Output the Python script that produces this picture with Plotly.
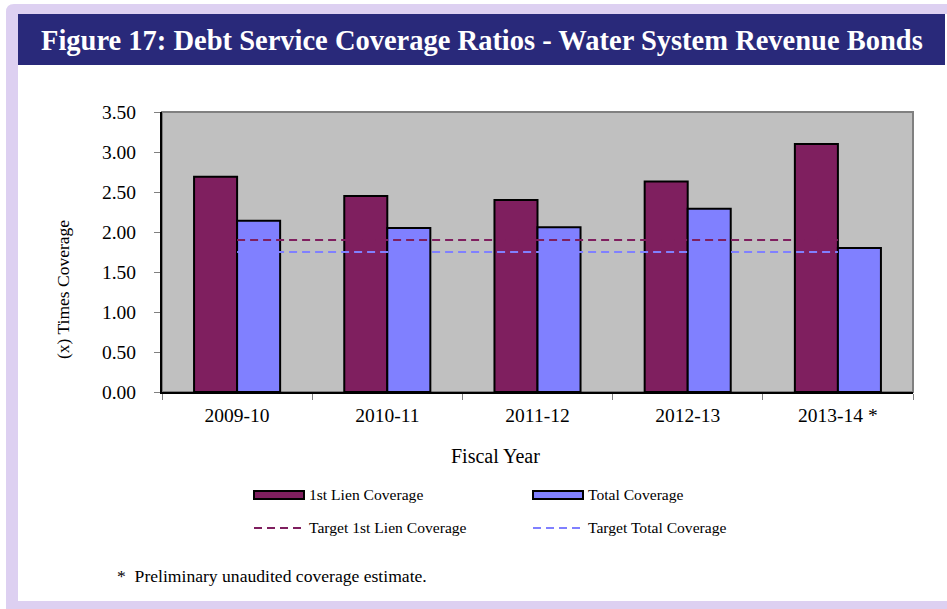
import plotly.graph_objects as go

# Fiscal years and coverage ratios (x times)
fiscal_years = ["2009-10", "2010-11", "2011-12", "2012-13", "2013-14 *"]
first_lien_coverage = [2.69, 2.45, 2.40, 2.63, 3.10]
total_coverage = [2.14, 2.05, 2.06, 2.29, 1.80]
target_first_lien = [1.90, 1.90, 1.90, 1.90, 1.90]
target_total = [1.75, 1.75, 1.75, 1.75, 1.75]
y_ticks = [0.0, 0.5, 1.0, 1.5, 2.0, 2.5, 3.0, 3.5]

W, H = 947, 609
ML, MR, MT, MB = 162, 34, 112, 217
PW, PH = W - ML - MR, H - MT - MB

PURPLE = "#7f1f5f"
BLUE = "#8080ff"
NAVY = "#29297a"
LAVENDER = "#ddd0f1"
SERIF = "Liberation Serif, Times New Roman, serif"


def px(x):
    return (x - ML) / PW


def py(y):
    return (H - MB - y) / PH


fig = go.Figure()
fig.add_trace(go.Bar(
    x=fiscal_years, y=first_lien_coverage, name="1st Lien Coverage",
    marker=dict(color=PURPLE, line=dict(color="black", width=2)),
))
fig.add_trace(go.Bar(
    x=fiscal_years, y=total_coverage, name="Total Coverage",
    marker=dict(color=BLUE, line=dict(color="black", width=2)),
))
fig.add_trace(go.Scatter(
    x=fiscal_years, y=target_first_lien, name="Target 1st Lien Coverage",
    mode="lines", line=dict(color=PURPLE, width=2, dash="8px,5px"),
))
fig.add_trace(go.Scatter(
    x=fiscal_years, y=target_total, name="Target Total Coverage",
    mode="lines", line=dict(color=BLUE, width=2, dash="8px,5px"),
))

shapes = []
# page frame: lavender border with rounded top-left corner
shapes.append(dict(
    type="path", xref="paper", yref="paper", layer="below",
    path=(f"M {px(6)},{py(12)} Q {px(6)},{py(4)} {px(14)},{py(4)} "
          f"L {px(W + 2)},{py(4)} L {px(W + 2)},{py(14)} L {px(18)},{py(14)} "
          f"L {px(18)},{py(601)} L {px(6)},{py(601)} Z"),
    fillcolor=LAVENDER, line=dict(width=0),
))
shapes.append(dict(
    type="rect", xref="paper", yref="paper", layer="below",
    x0=px(6), x1=px(W + 2), y0=py(601), y1=py(609),
    fillcolor=LAVENDER, line=dict(width=0),
))
# title band
shapes.append(dict(
    type="rect", xref="paper", yref="paper", layer="below",
    x0=px(18), x1=px(945), y0=py(14), y1=py(65),
    fillcolor=NAVY, line=dict(width=0),
))
# plot area frame
shapes.append(dict(
    type="rect", xref="paper", yref="paper", layer="below",
    x0=0, x1=1, y0=0, y1=1,
    fillcolor="rgba(0,0,0,0)", line=dict(color="#808080", width=2),
))

# legend entries
legend_items = [
    ("bar", PURPLE, "1st Lien Coverage", 254, 495),
    ("bar", BLUE, "Total Coverage", 533, 495),
    ("line", PURPLE, "Target 1st Lien Coverage", 254, 528),
    ("line", BLUE, "Target Total Coverage", 533, 528),
]
annotations = []
for kind, color, label, lx, ly in legend_items:
    if kind == "bar":
        shapes.append(dict(
            type="rect", xref="paper", yref="paper",
            x0=px(lx), x1=px(lx + 50), y0=py(ly - 4), y1=py(ly + 4),
            fillcolor=color, line=dict(color="black", width=2),
        ))
    else:
        shapes.append(dict(
            type="line", xref="paper", yref="paper",
            x0=px(lx), x1=px(lx + 49), y0=py(ly), y1=py(ly),
            line=dict(color=color, width=2, dash="8px,5px"),
        ))
    annotations.append(dict(
        text=label, xref="paper", yref="paper", x=px(lx + 53), y=py(ly - 0.5),
        xanchor="left", yanchor="middle", showarrow=False,
        font=dict(family=SERIF, size=15.6, color="black"),
    ))

annotations += [
    dict(text="<b>Figure 17: Debt Service Coverage Ratios - Water System Revenue Bonds</b>",
         xref="paper", yref="paper", x=px(482), y=py(40), xanchor="center", yanchor="middle",
         showarrow=False, font=dict(family=SERIF, size=28.5, color="white")),
    dict(text="(x) Times Coverage", xref="paper", yref="paper", x=px(63), y=py(290),
         xanchor="center", yanchor="middle", textangle=-90, showarrow=False,
         font=dict(family=SERIF, size=17.5, color="black")),
    dict(text="Fiscal Year", xref="paper", yref="paper", x=px(495), y=py(456),
         xanchor="center", yanchor="middle", showarrow=False,
         font=dict(family=SERIF, size=20, color="black")),
    dict(text="*  Preliminary unaudited coverage estimate.", xref="paper", yref="paper",
         x=px(115), y=py(576), xanchor="left", yanchor="middle", showarrow=False,
         font=dict(family=SERIF, size=17.6, color="black")),
]

fig.update_layout(
    width=W, height=H,
    margin=dict(l=ML, r=MR, t=MT, b=MB),
    paper_bgcolor="white", plot_bgcolor="#c0c0c0",
    barmode="group", bargap=0.427, bargroupgap=0,
    showlegend=False,
    shapes=shapes, annotations=annotations,
    font=dict(family=SERIF, color="black"),
)
fig.update_xaxes(
    type="category", showline=True, linecolor="black", linewidth=2,
    ticks="outside", tickson="boundaries", ticklen=6, tickcolor="#808080",
    tickfont=dict(family=SERIF, size=19.5), ticklabelstandoff=5,
    showgrid=False, zeroline=False,
)
fig.update_yaxes(
    range=[0, 3.5], tickvals=y_ticks, tickformat=".2f",
    showline=True, linecolor="black", linewidth=2,
    ticks="outside", ticklen=6, tickcolor="#808080",
    tickfont=dict(family=SERIF, size=19.5), ticklabelstandoff=14,
    showgrid=False, zeroline=False,
)

fig.write_html("out.html")
